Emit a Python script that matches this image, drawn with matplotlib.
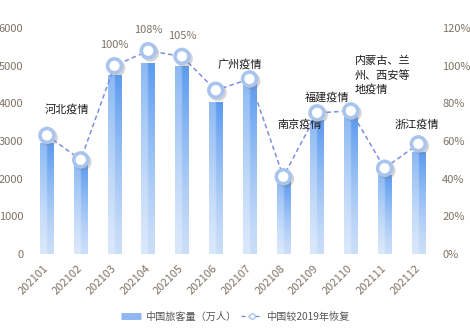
import numpy as np
import matplotlib.pyplot as plt
import matplotlib.patheffects as pe
from matplotlib.colors import to_rgb
from matplotlib.lines import Line2D
from matplotlib.ticker import FuncFormatter

plt.rcParams['font.family'] = ['Noto Sans CJK SC', 'DejaVu Sans']

# data
months = ['202101', '202102', '202103', '202104', '202105', '202106',
          '202107', '202108', '202109', '202110', '202111', '202112']
passengers = [2950, 2400, 4750, 5070, 5000, 4050, 4600, 1950, 3550, 3650, 2100, 2700]
recovery = [63, 50, 100, 108, 105, 87, 93, 41, 75, 76, 45.5, 58.5]
pct_labels = {2: '100%', 3: '108%', 4: '105%'}

# event notes: (text, x in category units, y in %, horizontal alignment)
events = [
    ('河北疫情', 0.58, 77, 'center'),
    ('广州疫情', 5.7, 101, 'center'),
    ('南京疫情', 7.48, 69, 'center'),
    ('福建疫情', 8.29, 83, 'center'),
    ('内蒙古、兰\n州、西安等\n地疫情', 9.12, 95, 'left'),
    ('浙江疫情', 10.96, 69, 'center'),
]

tick_color = '#7f7366'
line_color = '#7d8fe2'
ring_color = '#a9c5ee'

fig = plt.figure(figsize=(4.7, 3.28), dpi=100)
ax = fig.add_axes([0.064, 0.226, 0.862, 0.688])
ax2 = ax.twinx()

x = np.arange(len(months))
bars = ax.bar(x, passengers, width=0.4, color='none', edgecolor='none', zorder=2)

# gradient fill for each bar: dark at top, light at bottom, left half lighter
top = np.array(to_rgb('#5c9bef'))
bottom = np.array(to_rgb('#cadef9'))
ny, nx = 64, 8
t = np.linspace(0, 1, ny)[:, None, None] ** 1.3
grad = bottom + (top - bottom) * t
grad = np.repeat(grad, nx, axis=1)
grad[:, :nx // 2, :] = grad[:, :nx // 2, :] * 0.7 + 0.3

for rect in bars:
    x0 = rect.get_x()
    w = rect.get_width()
    h = rect.get_height()
    im = ax.imshow(grad, extent=[x0, x0 + w, 0, h], origin='lower',
                   aspect='auto', zorder=2, interpolation='bilinear')
    im.set_clip_path(rect)

ax.set_xlim(-0.5, len(months) - 0.5)
ax.set_ylim(0, 6000)
ax.set_yticks(range(0, 6001, 1000))
ax2.set_ylim(0, 120)
ax2.set_yticks(range(0, 121, 20))
ax2.yaxis.set_major_formatter(FuncFormatter(lambda v, p: f'{v:.0f}%'))

ax.set_xticks(x)
ax.set_xticklabels(months, rotation=45, ha='right', va='center',
                   rotation_mode='anchor')

for a in (ax, ax2):
    for s in a.spines.values():
        s.set_visible(False)
    a.tick_params(length=0, colors=tick_color, labelsize=8, pad=5)
ax.tick_params(axis='x', pad=9)

# recovery line
ax2.plot(x, recovery, color=line_color, lw=1.1, ls=(0, (3, 2)), zorder=3)
ax2.plot(x, recovery, ls='none', marker='o', ms=10, mfc='white', mec=ring_color,
         mew=2.6, zorder=4,
         path_effects=[pe.SimpleLineShadow(offset=(1.5, -1.5), shadow_color='#888888', alpha=0.35),
                       pe.Normal()])

for i, lab in pct_labels.items():
    ax2.annotate(lab, (x[i], recovery[i]), xytext=(0, 15), textcoords='offset points',
                 ha='center', va='center', fontsize=8, color=tick_color)

for txt, ex, ey, ha in events:
    ax2.text(ex, ey, txt, ha=ha, va='center', fontsize=8, color='#1a1a1a',
             linespacing=1.4)

handles = [
    Line2D([], [], color='#8fb8f2', lw=5, solid_capstyle='butt'),
    Line2D([], [], color=line_color, lw=1, ls=(0, (3, 2)), marker='o', ms=4,
           mfc='white', mec=ring_color, mew=1),
]
fig.legend(handles, ['中国旅客量（万人）', '中国较2019年恢复'], loc='center',
           bbox_to_anchor=(0.5, 0.034), ncol=2, frameon=False, fontsize=7.3,
           handlelength=2.0, handletextpad=0.4, columnspacing=0.5,
           labelcolor='#555555')

fig.savefig('out.png', dpi=100)
